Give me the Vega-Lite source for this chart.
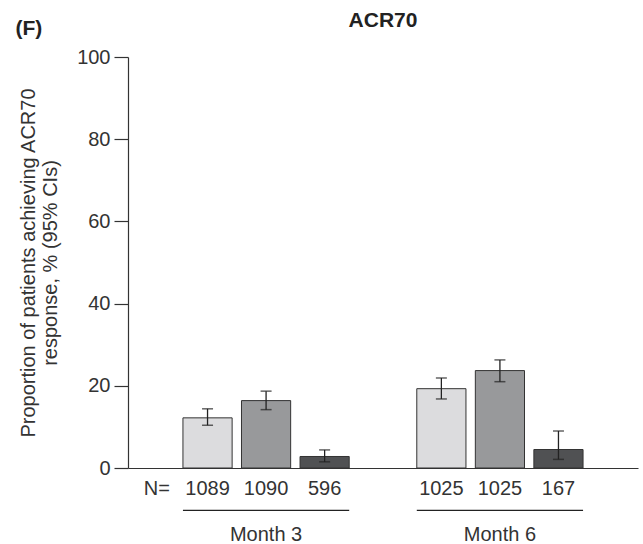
{
  "$schema": "https://vega.github.io/schema/vega-lite/v6.json",
  "width": 510,
  "height": 411,
  "autosize": {"type": "none"},
  "padding": {"left": 128, "top": 57, "right": 5, "bottom": 76},
  "title": {"text": "ACR70", "fontSize": 21, "fontWeight": "bold", "color": "#222", "anchor": "middle", "font": "Liberation Sans", "dy": 18},
  "config": {"font": "Liberation Sans", "view": {"stroke": null}, "axis": {"grid": false}},
  "datasets": {
    "bars": [
      {"month": "Month 3", "treatment": "T1", "value": 12.2, "lo": 10.4, "hi": 14.4, "n": "1089"},
      {"month": "Month 3", "treatment": "T2", "value": 16.4, "lo": 14.2, "hi": 18.7, "n": "1090"},
      {"month": "Month 3", "treatment": "T3", "value": 2.8, "lo": 1.5, "hi": 4.4, "n": "596"},
      {"month": "Month 6", "treatment": "T1", "value": 19.3, "lo": 16.8, "hi": 21.9, "n": "1025"},
      {"month": "Month 6", "treatment": "T2", "value": 23.7, "lo": 21.0, "hi": 26.3, "n": "1025"},
      {"month": "Month 6", "treatment": "T3", "value": 4.5, "lo": 2.1, "hi": 9.0, "n": "167"}
    ],
    "months": [{"month": "Month 3"}, {"month": "Month 6"}],
    "nlabel": [{"label": "N="}]
  },
  "layer": [
    {
      "data": {"name": "bars"},
      "mark": {"type": "bar", "stroke": "#333", "strokeWidth": 1},
      "encoding": {
        "x": {"field": "month", "type": "nominal", "title": null,
              "scale": {"paddingInner": 0.289, "paddingOuter": 0.235},
              "axis": {"orient": "bottom", "ticks": false, "tickSize": 0, "labelPadding": 56, "labelFontSize": 20, "labelColor": "#333", "labelAngle": 0, "domainColor": "#333", "domainWidth": 1.2}},
        "xOffset": {"field": "treatment", "type": "nominal", "scale": {"paddingInner": 0.16, "paddingOuter": 0}},
        "y": {"field": "value", "type": "quantitative", "scale": {"domain": [0, 100]},
              "axis": {"values": [0, 20, 40, 60, 80, 100], "tickSize": 14, "labelPadding": 4, "labelFontSize": 20, "labelColor": "#333", "tickColor": "#333", "domainColor": "#333", "domainWidth": 1.2, "tickWidth": 1.2,
                       "title": ["Proportion of patients achieving ACR70", "response, % (95% CIs)"], "titleFontSize": 20, "titleFontWeight": "normal", "titleColor": "#333", "titleX": -110, "titleBaseline": "top", "titleLineHeight": 22}},
        "color": {"field": "treatment", "type": "nominal", "scale": {"domain": ["T1", "T2", "T3"], "range": ["#dcdcde", "#98999b", "#505153"]}, "legend": null}
      }
    },
    {
      "data": {"name": "bars"},
      "mark": {"type": "rule", "color": "#222", "strokeWidth": 1.3},
      "encoding": {
        "x": {"field": "month", "type": "nominal", "title": null},
        "xOffset": {"field": "treatment", "type": "nominal"},
        "y": {"field": "lo", "type": "quantitative",
              "axis": {"orient": "left", "labels": false, "ticks": false, "domain": false, "grid": false, "title": "(F)", "titleAngle": 0, "titleX": -113, "titleY": -23, "titleAlign": "left", "titleBaseline": "alphabetic", "titleFontSize": 21, "titleFontWeight": "bold", "titleColor": "#222"}},
        "y2": {"field": "hi"}
      }
    },
    {
      "data": {"name": "bars"},
      "mark": {"type": "tick", "color": "#222", "size": 11, "thickness": 1.5},
      "encoding": {
        "x": {"field": "month", "type": "nominal", "title": null},
        "xOffset": {"field": "treatment", "type": "nominal"},
        "y": {"field": "hi", "type": "quantitative", "axis": null}
      }
    },
    {
      "data": {"name": "bars"},
      "mark": {"type": "tick", "color": "#222", "size": 11, "thickness": 1.5},
      "encoding": {
        "x": {"field": "month", "type": "nominal", "title": null},
        "xOffset": {"field": "treatment", "type": "nominal"},
        "y": {"field": "lo", "type": "quantitative", "axis": null}
      }
    },
    {
      "data": {"name": "bars"},
      "mark": {"type": "text", "fontSize": 20, "color": "#333", "baseline": "middle"},
      "encoding": {
        "x": {"field": "month", "type": "nominal", "title": null},
        "xOffset": {"field": "treatment", "type": "nominal"},
        "y": {"datum": -5, "type": "quantitative", "axis": null},
        "text": {"field": "n"}
      }
    },
    {
      "data": {"name": "nlabel"},
      "mark": {"type": "text", "fontSize": 20, "color": "#333", "baseline": "middle", "align": "right", "dx": -13},
      "encoding": {
        "x": {"datum": "Month 3", "type": "nominal", "bandPosition": 0},
        "y": {"datum": -5, "type": "quantitative", "axis": null},
        "text": {"field": "label"}
      }
    },
    {
      "data": {"name": "months"},
      "mark": {"type": "rule", "color": "#222", "strokeWidth": 1.3},
      "encoding": {
        "x": {"field": "month", "type": "nominal", "title": null, "bandPosition": 0},
        "x2": {"field": "month", "bandPosition": 1},
        "y": {"datum": -10.3, "type": "quantitative", "axis": null}
      }
    }
  ],
  "resolve": {"axis": {"y": "independent"}}
}
